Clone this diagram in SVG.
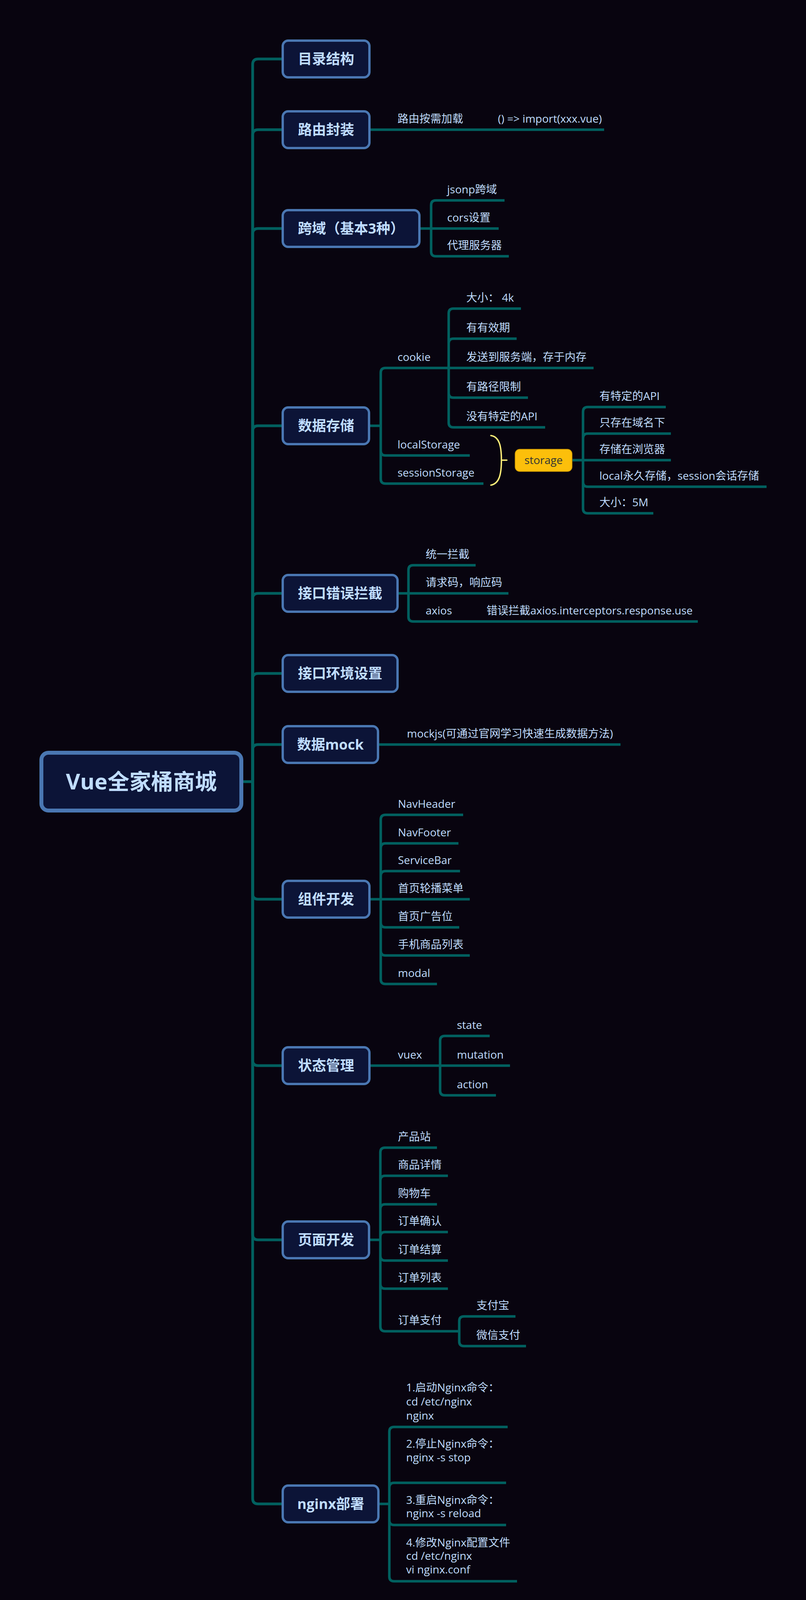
<svg xmlns="http://www.w3.org/2000/svg" width="2064" height="4152" viewBox="0 0 2064 4152">
<style>
.bg{fill:#08040f}
.node rect{fill:#0c1437;stroke:#4a77b2;stroke-width:6}
.root rect{fill:#0c1437;stroke:#4a77b2;stroke-width:10}
.t1{font-family:"Open Sans","Noto Sans CJK SC",sans-serif;font-size:36px;font-weight:700;fill:#c0ddff;text-anchor:middle}
.t0{font-family:"Open Sans","Noto Sans CJK SC",sans-serif;font-size:56px;font-weight:700;fill:#c0ddff;text-anchor:middle}
.t2{font-family:"Open Sans","Noto Sans CJK SC",sans-serif;font-size:28px;font-weight:400;fill:#c0ddff}
.ts{font-family:"Open Sans","Noto Sans CJK SC",sans-serif;font-size:28px;font-weight:400;fill:#333333;text-anchor:middle}
.c1{fill:none;stroke:#01605f;stroke-width:7}
.c2{fill:none;stroke:#01605f;stroke-width:6.5}
.brace{fill:none;stroke:#fff07a;stroke-width:3.5;stroke-linecap:round}
</style>
<rect class="bg" x="0" y="0" width="2064" height="4152"/>

<g id="connectors">
<path class="c1" d="M620 2001 H647"/>
<path class="c1" d="M647 2001 V165 Q647 151 661 151 H724"/>
<path class="c1" d="M647 2001 V346 Q647 332 661 332 H724"/>
<path class="c1" d="M647 2001 V599 Q647 585 661 585 H724"/>
<path class="c1" d="M647 2001 V1104 Q647 1090 661 1090 H724"/>
<path class="c1" d="M647 2001 V1533 Q647 1519 661 1519 H724"/>
<path class="c1" d="M647 2001 V1738 Q647 1724 661 1724 H724"/>
<path class="c1" d="M647 2001 V1920 Q647 1906 661 1906 H724"/>
<path class="c1" d="M647 2001 V2288 Q647 2302 661 2302 H724"/>
<path class="c1" d="M647 2001 V2714 Q647 2728 661 2728 H724"/>
<path class="c1" d="M647 2001 V3160 Q647 3174 661 3174 H724"/>
<path class="c1" d="M647 2001 V3836 Q647 3850 661 3850 H724"/>

<path class="c2" d="M949 332 H1547"/>

<path class="c2" d="M1077 585 H1104 M1104 585 V525 Q1104 513 1116 513 H1292 M1104 585 H1277 M1104 585 V644 Q1104 656 1116 656 H1303"/>

<path class="c2" d="M948 1090 H975 M975 1090 V954 Q975 942 987 942 H1149 M975 1090 V1154 Q975 1166 987 1166 H1203 M975 1090 V1226 Q975 1238 987 1238 H1238"/>
<path class="c2" d="M1149 942 V802 Q1149 790 1161 790 H1334 M1149 942 V879 Q1149 867 1161 867 H1323 M1149 942 H1520 M1149 942 V1006 Q1149 1018 1161 1018 H1352 M1149 942 V1082 Q1149 1094 1161 1094 H1396"/>
<path class="brace" d="M1257 1115 C1278 1118 1284 1140 1284 1178 C1284 1216 1278 1238 1257 1242 M1284 1178 H1298"/>
<path class="c2" d="M1466 1178 H1493 M1493 1178 V1054 Q1493 1042 1505 1042 H1705 M1493 1178 V1122 Q1493 1110 1505 1110 H1718 M1493 1178 H1718 M1493 1178 V1234 Q1493 1246 1505 1246 H1963 M1493 1178 V1302 Q1493 1314 1505 1314 H1673"/>

<path class="c2" d="M1021 1519 H1046 M1046 1519 V1459 Q1046 1447 1058 1447 H1218 M1046 1519 H1302 M1046 1519 V1579 Q1046 1591 1058 1591 H1787"/>

<path class="c2" d="M971 1906 H1589"/>

<path class="c2" d="M949 2302 H975 M975 2302 V2098 Q975 2086 987 2086 H1186 M975 2302 V2171 Q975 2159 987 2159 H1174 M975 2302 V2242 Q975 2230 987 2230 H1178 M975 2302 H1203 M975 2302 V2362 Q975 2374 987 2374 H1176 M975 2302 V2434 Q975 2446 987 2446 H1203 M975 2302 V2507 Q975 2519 987 2519 H1119"/>

<path class="c2" d="M949 2728 H1127 M1127 2728 V2664 Q1127 2652 1139 2652 H1254 M1127 2728 H1306 M1127 2728 V2792 Q1127 2804 1139 2804 H1270"/>

<path class="c2" d="M948 3174 H974 M974 3174 V2950 Q974 2938 986 2938 H1119 M974 3174 V3022 Q974 3010 986 3010 H1147 M974 3174 V3095 Q974 3083 986 3083 H1119 M974 3174 V3166 Q974 3154 986 3154 H1147 M974 3174 V3215 Q974 3227 986 3227 H1147 M974 3174 V3287 Q974 3299 986 3299 H1147 M974 3174 V3396 Q974 3408 986 3408 H1176"/>
<path class="c2" d="M1176 3408 V3382 Q1176 3370 1188 3370 H1320 M1176 3408 V3434 Q1176 3446 1188 3446 H1347"/>

<path class="c2" d="M972 3850 H997 M997 3850 V3665 Q997 3653 1009 3653 H1300 M997 3850 V3808 Q997 3796 1009 3796 H1296 M997 3850 V3892 Q997 3904 1009 3904 H1296 M997 3850 V4036 Q997 4048 1009 4048 H1324"/>
</g>

<g id="root" class="root"><rect x="106" y="1927" width="512" height="148" rx="18"/><text class="t0" x="362" y="2021">Vue全家桶商城</text></g>

<g id="n-mulu" class="node"><rect x="724" y="104" width="222" height="94" rx="14"/><text class="t1" x="835" y="164">目录结构</text></g>
<g id="n-luyou" class="node"><rect x="724" y="285" width="222" height="94" rx="14"/><text class="t1" x="835" y="345">路由封装</text></g>
<g id="n-kuayu" class="node"><rect x="724" y="538" width="350" height="94" rx="14"/><text class="t1" x="899" y="598">跨域（基本3种）</text></g>
<g id="n-cunchu" class="node"><rect x="724" y="1043" width="221" height="94" rx="14"/><text class="t1" x="835" y="1103">数据存储</text></g>
<g id="n-lanjie" class="node"><rect x="724" y="1472" width="294" height="94" rx="14"/><text class="t1" x="871" y="1532">接口错误拦截</text></g>
<g id="n-huanjing" class="node"><rect x="724" y="1677" width="294" height="94" rx="14"/><text class="t1" x="871" y="1737">接口环境设置</text></g>
<g id="n-mock" class="node"><rect x="724" y="1859" width="244" height="94" rx="14"/><text class="t1" x="846" y="1919">数据mock</text></g>
<g id="n-zujian" class="node"><rect x="724" y="2255" width="222" height="94" rx="14"/><text class="t1" x="835" y="2315">组件开发</text></g>
<g id="n-zhuangtai" class="node"><rect x="724" y="2681" width="222" height="94" rx="14"/><text class="t1" x="835" y="2741">状态管理</text></g>
<g id="n-yemian" class="node"><rect x="724" y="3127" width="221" height="94" rx="14"/><text class="t1" x="835" y="3187">页面开发</text></g>
<g id="n-nginx" class="node"><rect x="724" y="3803" width="245" height="94" rx="14"/><text class="t1" x="847" y="3863">nginx部署</text></g>

<g id="luyou-children">
<text class="t2" x="1018" y="314">路由按需加载</text>
<text class="t2" x="1275" y="314">() =&gt; import(xxx.vue)</text>
</g>
<g id="kuayu-children">
<text class="t2" x="1145" y="495">jsonp跨域</text>
<text class="t2" x="1145" y="567">cors设置</text>
<text class="t2" x="1145" y="638">代理服务器</text>
</g>
<g id="cunchu-children">
<text class="t2" x="1018" y="924">cookie</text>
<text class="t2" x="1018" y="1148">localStorage</text>
<text class="t2" x="1018" y="1220">sessionStorage</text>
<text class="t2" x="1194" y="772">大小： 4k</text>
<text class="t2" x="1194" y="849">有有效期</text>
<text class="t2" x="1194" y="924">发送到服务端，存于内存</text>
<text class="t2" x="1194" y="1000">有路径限制</text>
<text class="t2" x="1194" y="1076">没有特定的API</text>
</g>
<g id="storage"><rect x="1319" y="1150" width="146" height="57" rx="12" fill="#fcbf0b" stroke="#c89300" stroke-width="1.5"/><text class="ts" x="1392" y="1188">storage</text></g>
<g id="storage-children">
<text class="t2" x="1535" y="1024">有特定的API</text>
<text class="t2" x="1535" y="1092">只存在域名下</text>
<text class="t2" x="1535" y="1160">存储在浏览器</text>
<text class="t2" x="1535" y="1228">local永久存储，session会话存储</text>
<text class="t2" x="1535" y="1296">大小：5M</text>
</g>
<g id="lanjie-children">
<text class="t2" x="1090" y="1429">统一拦截</text>
<text class="t2" x="1090" y="1501">请求码，响应码</text>
<text class="t2" x="1090" y="1573">axios</text>
<text class="t2" x="1246" y="1573">错误拦截axios.interceptors.response.use</text>
</g>
<g id="mock-children">
<text class="t2" x="1042" y="1888">mockjs(可通过官网学习快速生成数据方法)</text>
</g>
<g id="zujian-children">
<text class="t2" x="1019" y="2068">NavHeader</text>
<text class="t2" x="1019" y="2141">NavFooter</text>
<text class="t2" x="1019" y="2212">ServiceBar</text>
<text class="t2" x="1019" y="2284">首页轮播菜单</text>
<text class="t2" x="1019" y="2356">首页广告位</text>
<text class="t2" x="1019" y="2428">手机商品列表</text>
<text class="t2" x="1019" y="2501">modal</text>
</g>
<g id="zhuangtai-children">
<text class="t2" x="1019" y="2710">vuex</text>
<text class="t2" x="1170" y="2634">state</text>
<text class="t2" x="1170" y="2710">mutation</text>
<text class="t2" x="1170" y="2786">action</text>
</g>
<g id="yemian-children">
<text class="t2" x="1019" y="2920">产品站</text>
<text class="t2" x="1019" y="2992">商品详情</text>
<text class="t2" x="1019" y="3065">购物车</text>
<text class="t2" x="1019" y="3136">订单确认</text>
<text class="t2" x="1019" y="3209">订单结算</text>
<text class="t2" x="1019" y="3281">订单列表</text>
<text class="t2" x="1019" y="3390">订单支付</text>
<text class="t2" x="1220" y="3352">支付宝</text>
<text class="t2" x="1220" y="3428">微信支付</text>
</g>
<g id="nginx-children">
<text class="t2" x="1040" y="3562">1.启动Nginx命令：</text>
<text class="t2" x="1040" y="3598">cd /etc/nginx</text>
<text class="t2" x="1040" y="3634">nginx</text>
<text class="t2" x="1040" y="3706">2.停止Nginx命令：</text>
<text class="t2" x="1040" y="3741">nginx -s stop</text>
<text class="t2" x="1040" y="3850">3.重启Nginx命令：</text>
<text class="t2" x="1040" y="3884">nginx -s reload</text>
<text class="t2" x="1040" y="3959">4.修改Nginx配置文件</text>
<text class="t2" x="1040" y="3993">cd /etc/nginx</text>
<text class="t2" x="1040" y="4028">vi nginx.conf</text>
</g>
</svg>
